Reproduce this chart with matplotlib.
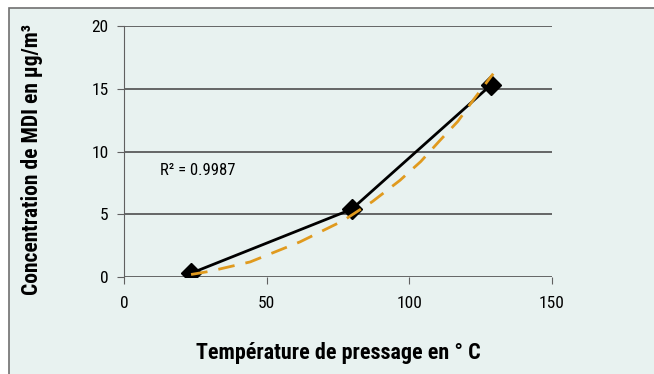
import matplotlib
matplotlib.use("Agg")
import matplotlib.pyplot as plt
from matplotlib.patches import Rectangle

plt.rcParams["font.family"] = ["Roboto Condensed", "DejaVu Sans"]

# measured points
temp = [23.5, 79.8, 128.6]
mdi = [0.3, 5.4, 15.3]

# trend curve
trend_x = [23.5, 30, 44.2, 61.7, 76.9, 87, 96.7, 104, 110.8, 117, 122.4, 129.4]
trend_y = [0.2, 0.45, 1.2, 2.8, 4.5, 6.0, 7.7, 9.2, 10.9, 12.4, 14.1, 16.2]

xticks = [0, 50, 100, 150]
yticks = [0, 5, 10, 15, 20]

bg = "#e8f2f0"
fig = plt.figure(figsize=(6.54, 3.74), dpi=100)
fig.patch.set_facecolor("white")
fig.patches.append(Rectangle((8.5 / 654, -0.1), 1.0, 1 - 8.5 / 374 + 0.1,
                             transform=fig.transFigure, facecolor=bg,
                             edgecolor="#707070", linewidth=1.2, zorder=-5))

ax = fig.add_axes([124 / 654, 1 - 277 / 374, 428 / 654, 251 / 374])
ax.patch.set_alpha(0)

ax.set_xlim(0, 150)
ax.set_ylim(0, 20)
ax.set_xticks(xticks)
ax.set_yticks(yticks)
ax.yaxis.grid(True, color="#404040", linewidth=1.1)
ax.set_axisbelow(True)
for s in ["top", "right", "bottom"]:
    ax.spines[s].set_visible(False)
ax.spines["left"].set_color("#606060")
ax.tick_params(axis="both", direction="out", length=5, color="#606060",
               labelsize=12.5, pad=6)
ax.tick_params(axis="x", pad=9)

ax.plot(temp, mdi, color="black", linewidth=2, marker="D", markersize=10,
        markerfacecolor="black", zorder=3)
ax.plot(trend_x, trend_y, color="#e09a1e", linewidth=2, dashes=(6, 4), zorder=4)

ax.text(12.6, 8.5, "R² = 0.9987", fontsize=12, va="center", ha="left")

ax.set_xlabel("Température de pressage en ° C", fontsize=15.8, fontweight="bold",
              labelpad=22)
ax.set_ylabel("Concentration de MDI en µg/m³", fontsize=15.5, fontweight="bold")
ax.yaxis.set_label_coords(-0.19, 0.468)

fig.savefig("out.png", dpi=100)
